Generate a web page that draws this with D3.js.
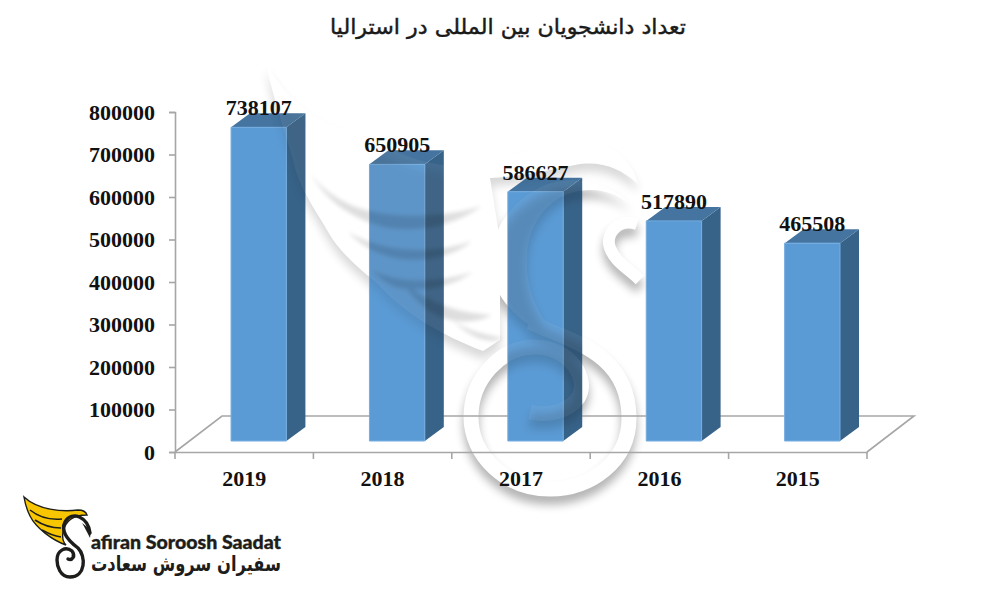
<!DOCTYPE html>
<html><head><meta charset="utf-8">
<script src="https://cdn.jsdelivr.net/npm/d3@7"></script>
<style>html,body{margin:0;background:#fff}svg{display:block}</style></head>
<body><svg id="c" width="1000" height="600" viewBox="0 0 1000 600"></svg>
<script>
const titleText = "تعداد دانشجویان بین المللی در استرالیا";
const years = ["2019","2018","2017","2016","2015"];
const students = [738107,650905,586627,517890,465508];
const yTicks = [0,100000,200000,300000,400000,500000,600000,700000,800000];
const logoLatin = "afiran Soroosh Saadat";
const logoArabic = "سفیران سروش سعادت";

const svg = d3.select("#c");
const defs = svg.append("defs");
const addBlur = (id,s)=>defs.append("filter").attr("id",id).attr("x","-30%").attr("y","-30%").attr("width","160%").attr("height","160%").append("feGaussianBlur").attr("stdDeviation",s);
addBlur("soft",5); addBlur("soft2",2.2);

const axisX0=175, axisX1=867, axisY0=452, axisY1=112, depthX=19, depthY=14, floorLift=11;
const y = d3.scaleLinear().domain([0,800000]).range([axisY0,axisY1]);
const x = d3.scaleBand().domain(years).range([axisX0,axisX1]);
const barW = x.step()*0.4, barOff = x.step()*0.405;
const serif = "'Liberation Serif','Times New Roman',serif";

// decorative watermark outline
const wing = "M266,62 C285,100 320,125 360,135 C395,150 425,170 470,165 C510,160 560,130 605,145 C625,155 635,170 638,184 C620,168 600,160 575,165 C540,172 510,178 490,178 L500,240 L500,340 L483,351 C440,335 400,310 377,283 C350,262 335,245 327,230 C312,205 298,185 293,160 C283,125 272,95 266,62 Z";
const feathers = [
 "M310,173 C330,200 360,212 393,215 C425,218 455,214 482,206 C455,225 420,232 390,228 C355,222 325,200 310,173 Z",
 "M348,232 C370,245 395,250 420,250 C440,250 458,246 472,241 C455,256 425,262 400,259 C378,255 360,245 348,232 Z",
 "M372,270 C395,282 430,285 473,272 C450,288 420,292 398,288 C388,285 378,277 372,270 Z",
 "M400,280 C420,297 450,313 492,315 C470,326 445,322 428,310 C417,302 407,290 400,280 Z",
 "M452,320 C465,330 485,335 503,338 C490,345 470,338 452,320 Z"
];
const sBody = "M632,206 C610,180 565,172 535,190 C500,210 482,250 495,285 C505,310 530,330 562,342 C540,320 525,290 527,258 C527,225 550,190 590,190 C608,190 622,197 632,206 Z";
const ring = "M530,322 C565,340 629,350 629,418 C629,462 590,489 550,489 C505,489 471,455 471,417 C471,380 500,347 535,347 C570,347 590,380 578,398 C568,412 548,416 530,412";
const head = "M637,224 C618,218 605,234 610,248 C615,262 628,268 640,280";
const strokes = [[ring,15],[head,12]];

function watermark(g, whiteOp, shadowOp, featherOp){
  const sh = g.append("g").attr("filter","url(#soft)").attr("transform","translate(0,8)").attr("opacity",shadowOp);
  sh.append("path").attr("d",wing).attr("fill","#000").attr("opacity",.5);
  sh.append("path").attr("d",sBody).attr("fill","#000");
  strokes.forEach(([d,w])=>sh.append("path").attr("d",d).attr("fill","none").attr("stroke","#000").attr("stroke-width",w));
  const wh = g.append("g").attr("opacity",whiteOp);
  wh.append("path").attr("d",wing).attr("fill","#fff");
  wh.append("path").attr("d",sBody).attr("fill","#fff");
  strokes.forEach(([d,w])=>wh.append("path").attr("d",d).attr("fill","none").attr("stroke","#fff").attr("stroke-width",w));
  const fe = g.append("g").attr("filter","url(#soft2)").attr("opacity",featherOp);
  feathers.forEach(d=>fe.append("path").attr("d",d).attr("fill","#000"));
}
watermark(svg.append("g"),1,.3,.13);

// floor
const floorBack = axisY0-36, floorDx=47;
svg.append("path").attr("fill","none").attr("stroke","#a6a6a6").attr("stroke-width",1.6)
  .attr("d",d3.line()([[axisX0,axisY0],[axisX0+floorDx,floorBack],[axisX1+floorDx,floorBack],[axisX1,axisY0]]));

// axes
const yAxis = d3.axisLeft(y).tickValues(yTicks).tickFormat(d=>String(d)).tickSize(6).tickPadding(14);
const ga = svg.append("g").attr("transform",`translate(${axisX0},0)`).call(yAxis);
const xAxis = d3.axisBottom(x).tickSize(0).tickPadding(18);
const gb = svg.append("g").attr("transform",`translate(0,${axisY0})`).call(xAxis);
gb.selectAll(".xb").data(d3.range(years.length+1)).join("line").attr("class","xb")
  .attr("x1",i=>axisX0+i*x.step()).attr("x2",i=>axisX0+i*x.step()).attr("y1",0).attr("y2",7).attr("stroke","#a6a6a6").attr("stroke-width",1.6);
[ga,gb].forEach(g=>{
  g.selectAll("path.domain,.tick line").attr("stroke","#a6a6a6").attr("stroke-width",1.6);
  g.selectAll("text").attr("font-family",serif).attr("font-weight","bold").attr("font-size",22).attr("fill","#111");
});

// bars
const rows = years.map((k,i)=>({k,v:students[i]}));
const bx = d=>x(d.k)+barOff, barTop = d=>y(d.v)-floorLift, bot = axisY0-floorLift;
const bars = svg.append("g");
const poly = (g,fn,fill,extra)=>g.selectAll(null).data(rows).join("polygon").attr("points",d=>fn(d).join(" ")).attr("fill",fill).attr("stroke",extra||"none").attr("stroke-width",extra?1:0);
const sideP = d=>[[bx(d)+barW,barTop(d)],[bx(d)+barW+depthX,barTop(d)-depthY],[bx(d)+barW+depthX,bot-depthY],[bx(d)+barW,bot]];
const topP  = d=>[[bx(d),barTop(d)],[bx(d)+depthX,barTop(d)-depthY],[bx(d)+barW+depthX,barTop(d)-depthY],[bx(d)+barW,barTop(d)]];
const frontP= d=>[[bx(d),barTop(d)],[bx(d)+barW,barTop(d)],[bx(d)+barW,bot],[bx(d),bot]];
poly(bars,sideP,"#386389");
poly(bars,topP,"#44749f");
poly(bars,frontP,"#5b9bd5","#74ace0");

// watermark tint on bars
const clip = defs.append("clipPath").attr("id","barsClip");
[sideP,topP,frontP].forEach(fn=>poly(clip,fn,"#000"));
watermark(svg.append("g").attr("clip-path","url(#barsClip)").append("g"),.06,.15,.12);

// value labels
svg.append("g").selectAll("text").data(rows).join("text")
  .attr("x",d=>bx(d)+barW/2).attr("y",d=>barTop(d)-12).attr("text-anchor","middle")
  .attr("font-family",serif).attr("font-weight","bold").attr("font-size",22).attr("fill","#111")
  .text(d=>d.v);

// title
svg.append("text").attr("x",508).attr("y",34).attr("text-anchor","middle").attr("direction","rtl")
  .attr("font-family","'DejaVu Sans','Noto Sans',sans-serif").attr("font-size",21).attr("fill","#1a1a1a")
  .attr("stroke","#1a1a1a").attr("stroke-width",.45)
  .attr("textLength",356).attr("lengthAdjust","spacingAndGlyphs").text(titleText);

// logo
const logo = svg.append("g");
logo.append("path").attr("fill","#f7c600").attr("stroke","#1d1d1b").attr("stroke-width",1.4)
  .attr("d","M24,497 C38,510 62,512 78,510 C84,510 86,512 87,515 C72,515 65,522 63,532 C62,538 64,543 66,545 C52,540 36,528 30,516 C27,510 25,503 24,497 Z");
["M30,510 C40,518 52,520 62,519","M35,520 C44,526 52,528 61,528","M42,530 C49,534 55,536 61,537"].forEach(d=>
  logo.append("path").attr("d",d).attr("fill","none").attr("stroke","#1d1d1b").attr("stroke-width",1.6));
logo.append("path").attr("fill","none").attr("stroke","#1d1d1b").attr("stroke-width",3.4).attr("stroke-linecap","round")
  .attr("d","M90,533 C88,517 72,510 65,522 C60,532 70,542 78,548 C86,556 86,577 70,577 C60,577 57,566 57,560 C57,550 66,546 72,551 C76,556 72,561 68,559");
logo.append("path").attr("fill","#1d1d1b").attr("d","M82,523 L91,530 L90,538 C87,532 85,528 82,523 Z");
logo.append("text").attr("x",91).attr("y",549).attr("font-family","Lato,'Open Sans',sans-serif").attr("font-weight","900")
  .attr("font-size",18).attr("fill","#1d1d1b").attr("stroke","#1d1d1b").attr("stroke-width",.35)
  .attr("textLength",190).attr("lengthAdjust","spacingAndGlyphs").text(logoLatin);
logo.append("text").attr("x",186).attr("y",571).attr("text-anchor","middle").attr("direction","rtl")
  .attr("font-family","'DejaVu Sans',sans-serif").attr("font-weight","bold").attr("font-size",21).attr("fill","#1d1d1b")
  .attr("textLength",190).attr("lengthAdjust","spacingAndGlyphs").text(logoArabic);
</script></body></html>
